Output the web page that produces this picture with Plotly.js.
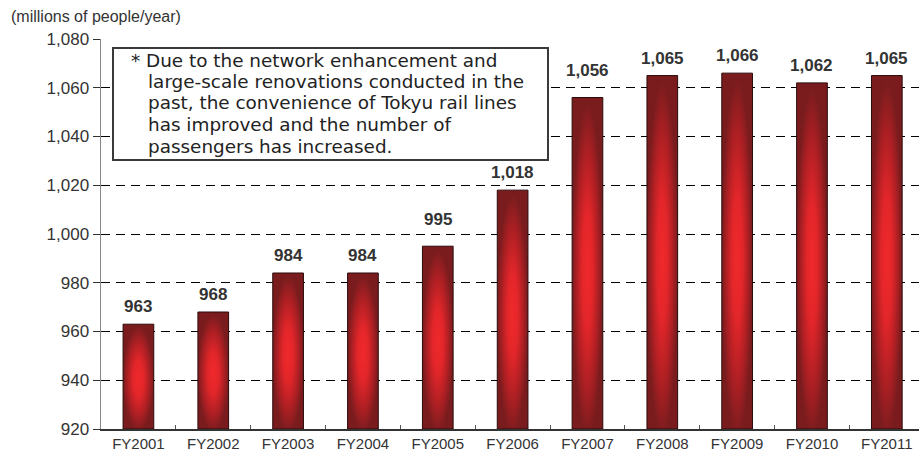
<!DOCTYPE html>
<html>
<head>
<meta charset="utf-8">
<script src="https://cdn.plot.ly/plotly-3.0.1.min.js"></script>
<style>
html,body{margin:0;padding:0;background:#fff;}
#chart{width:919px;height:454px;}
</style>
</head>
<body>
<div id="chart"></div>
<script>
const categories = ["FY2001","FY2002","FY2003","FY2004","FY2005","FY2006","FY2007","FY2008","FY2009","FY2010","FY2011"];
const passengers = [963, 968, 984, 984, 995, 1018, 1056, 1065, 1066, 1062, 1065];
const yTicks = [920, 940, 960, 980, 1000, 1020, 1040, 1060, 1080];
const unitLabel = "(millions of people/year)";
const noteLines = [
  "* Due to the network enhancement and",
  "large-scale renovations conducted in the",
  "past, the convenience of Tokyu rail lines",
  "has improved and the number of",
  "passengers has increased."
];

const FONT = "Arial, 'Liberation Sans', Helvetica, sans-serif";
const NOTE_FONT = "'DejaVu Sans', Arial, sans-serif";
const W = 919, H = 454;
const M = {l:101, r:0, t:39, b:25};
const plotH = H - M.t - M.b;
const plotW = W - M.l - M.r;
const px2x = p => (p - M.l) / plotW;
const py2y = p => (H - M.b - p) / plotH;
const axisBase = yTicks[0];

const trace = {
  type: 'bar',
  x: categories,
  base: passengers.map(() => axisBase),
  y: passengers.map(v => v - axisBase),
  width: 0.41,
  marker: {color: '#c42226', line: {color: '#2a0a0a', width: 1}},
  hoverinfo: 'skip'
};

// extra lift for labels that would otherwise sit on a gridline
const labelLift = {FY2005: 9, FY2007: 10};

const annotations = passengers.map((v, i) => ({
  x: categories[i], y: v, xref: 'x', yref: 'y',
  text: v.toLocaleString('en-US'),
  showarrow: false, yanchor: 'bottom', yshift: 6 + (labelLift[categories[i]] || 0),
  font: {family: FONT, size: 17, color: '#333', weight: 'bold'}
}));

const noteSize = 18.4, noteGap = 21.5, firstBaseline = 66;
noteLines.forEach((t, i) => {
  const baseline = firstBaseline + i * noteGap;
  annotations.push({
    x: px2x(i === 0 ? 130 : 147), y: py2y(baseline - 6),
    xref: 'paper', yref: 'paper', xanchor: 'left', yanchor: 'middle',
    text: t, showarrow: false, borderpad: 0,
    font: {family: NOTE_FONT, size: noteSize, color: '#222'}
  });
});

const layout = {
  width: W, height: H,
  margin: M,
  paper_bgcolor: '#fff', plot_bgcolor: '#fff',
  showlegend: false,
  title: {
    text: unitLabel, xref: 'container', yref: 'container',
    x: 11 / W, xanchor: 'left', y: 1 - 16 / H, yanchor: 'middle',
    font: {family: FONT, size: 16, color: '#333'}
  },
  xaxis: {
    type: 'category', range: [-0.5, 10.43],
    showline: true, linecolor: '#333', linewidth: 1.5,
    ticks: 'inside', tickson: 'boundaries', ticklen: 4, tickcolor: '#555',
    showgrid: false, zeroline: false,
    tickfont: {family: FONT, size: 15, color: '#333'}
  },
  yaxis: {
    range: [920, 1080], tickvals: yTicks, tickformat: ',',
    showline: true, linecolor: '#888', linewidth: 1.5,
    ticks: 'outside', ticklen: 7, tickcolor: '#333',
    showgrid: true, gridcolor: '#000', gridwidth: 1, griddash: '9px,6px',
    zeroline: false,
    tickfont: {family: FONT, size: 17, color: '#333'}
  },
  shapes: [{
    type: 'rect', xref: 'paper', yref: 'paper', layer: 'above',
    x0: px2x(113), x1: px2x(548), y0: py2y(160), y1: py2y(48),
    line: {color: '#3a3a3a', width: 2}, fillcolor: '#fff'
  }],
  annotations: annotations
};

Plotly.newPlot('chart', [trace], layout, {staticPlot: true, displayModeBar: false}).then(gd => {
  const ns = 'http://www.w3.org/2000/svg';
  const svg = gd.querySelector('svg.main-svg');
  let defs = svg.querySelector('defs');
  if (!defs) { defs = document.createElementNS(ns, 'defs'); svg.insertBefore(defs, svg.firstChild); }
  const g = document.createElementNS(ns, 'radialGradient');
  g.setAttribute('id', 'barGrad');
  g.setAttribute('cx', '0.5'); g.setAttribute('cy', '0.52'); g.setAttribute('r', '0.5');
  [[0, '#f0292b'], [0.35, '#e2262a'], [0.72, '#ab1f23'], [1, '#7a1c1e']].forEach(([o, c]) => {
    const s = document.createElementNS(ns, 'stop');
    s.setAttribute('offset', o); s.setAttribute('stop-color', c);
    g.appendChild(s);
  });
  defs.appendChild(g);
  gd.querySelectorAll('.bars .point path').forEach(p => { p.style.fill = 'url(#barGrad)'; });
});
</script>
</body>
</html>
